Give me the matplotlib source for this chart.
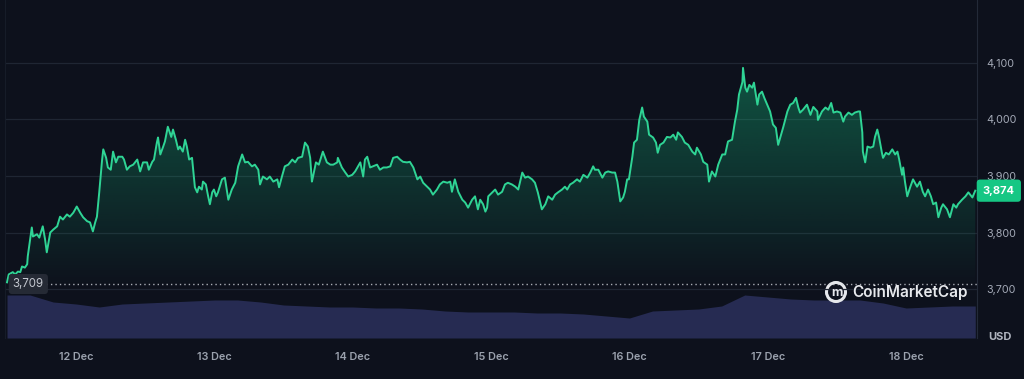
import numpy as np
import matplotlib
matplotlib.use('Agg')
import matplotlib.pyplot as plt
from matplotlib.patches import Ellipse
from matplotlib.ticker import FuncFormatter
import matplotlib.transforms as mtransforms

plt.rcParams['font.family'] = ['Inter', 'DejaVu Sans']

# hours since 11 Dec 12:00, price in USD
eth_price = [
    (0.0, 3712), (0.3, 3726), (1.0, 3730), (1.4, 3726), (1.9, 3731), (2.3, 3730), (2.6, 3740), (3.1, 3738),
    (3.5, 3744), (3.6, 3758), (4.3, 3809), (4.5, 3793), (5.2, 3797), (5.6, 3791), (6.2, 3811), (6.6, 3788),
    (6.9, 3765), (7.5, 3800), (8.0, 3805), (8.7, 3811), (9.2, 3828), (9.7, 3823), (10.4, 3832), (10.9, 3828),
    (11.5, 3835), (12.1, 3846), (12.7, 3835), (13.2, 3827), (13.9, 3820), (14.4, 3818), (14.9, 3802), (15.3, 3818),
    (15.6, 3828), (16.0, 3871), (16.5, 3929), (16.7, 3947), (17.2, 3932), (17.5, 3915), (18.0, 3911), (18.4, 3943),
    (18.9, 3924), (19.3, 3934), (20.0, 3934), (20.3, 3929), (20.8, 3911), (21.3, 3917), (21.9, 3920), (22.6, 3929),
    (23.1, 3908), (23.6, 3924), (24.3, 3924), (24.6, 3911), (25.2, 3925), (25.5, 3929), (26.0, 3959), (26.2, 3968),
    (26.6, 3938), (27.1, 3952), (27.4, 3961), (27.9, 3987), (28.5, 3969), (28.8, 3982), (29.3, 3964), (29.7, 3947),
    (30.0, 3952), (30.5, 3943), (30.9, 3964), (31.2, 3952), (31.6, 3929), (32.1, 3932), (32.3, 3911), (32.6, 3880),
    (33.0, 3871), (33.3, 3881), (33.8, 3876), (34.0, 3890), (34.5, 3885), (34.9, 3864), (35.2, 3850), (35.6, 3871),
    (35.9, 3876), (36.3, 3864), (36.6, 3871), (37.3, 3894), (37.8, 3897), (38.4, 3858), (39.0, 3876), (39.6, 3888),
    (40.1, 3917), (40.8, 3938), (41.3, 3924), (41.8, 3925), (42.5, 3917), (43.0, 3920), (43.6, 3911), (43.9, 3885),
    (44.4, 3899), (45.1, 3894), (45.6, 3899), (46.2, 3890), (46.9, 3894), (47.2, 3880), (47.7, 3899), (48.2, 3917),
    (48.8, 3920), (49.5, 3929), (50.0, 3924), (50.5, 3932), (51.2, 3934), (51.7, 3959), (52.2, 3952), (52.6, 3932),
    (52.9, 3890), (53.1, 3899), (53.6, 3924), (54.1, 3920), (54.8, 3943), (55.5, 3924), (56.1, 3920), (56.6, 3920),
    (57.3, 3924), (57.4, 3932), (58.1, 3915), (58.7, 3906), (59.2, 3899), (59.9, 3902), (60.4, 3908), (60.9, 3917),
    (61.3, 3924), (61.8, 3899), (62.1, 3929), (62.5, 3934), (63.0, 3915), (63.5, 3917), (64.2, 3920), (64.7, 3911),
    (65.3, 3915), (65.9, 3915), (66.5, 3917), (67.0, 3932), (67.7, 3934), (68.2, 3929), (68.7, 3925), (69.4, 3924),
    (69.9, 3925), (70.5, 3915), (71.2, 3894), (71.7, 3899), (72.2, 3888), (72.9, 3881), (73.4, 3876), (73.9, 3867),
    (74.6, 3876), (75.1, 3885), (75.7, 3890), (76.4, 3888), (76.9, 3890), (77.2, 3872), (77.7, 3894), (78.3, 3872),
    (79.0, 3858), (79.5, 3853), (80.0, 3844), (80.7, 3858), (81.2, 3864), (81.7, 3841), (82.1, 3858), (82.6, 3850),
    (83.0, 3837), (83.3, 3844), (83.5, 3864), (84.2, 3871), (84.7, 3876), (85.2, 3867), (85.9, 3872), (86.4, 3885),
    (86.9, 3888), (87.6, 3885), (88.2, 3881), (88.7, 3876), (89.4, 3906), (89.9, 3897), (90.4, 3899), (91.1, 3894),
    (91.6, 3888), (92.1, 3871), (92.8, 3841), (93.4, 3850), (93.9, 3864), (94.6, 3858), (95.1, 3867), (95.6, 3871),
    (96.3, 3876), (96.8, 3881), (97.2, 3876), (97.7, 3885), (98.2, 3888), (98.9, 3894), (99.4, 3890), (100.0, 3902),
    (100.7, 3897), (101.2, 3906), (101.7, 3917), (102.0, 3911), (102.6, 3911), (103.3, 3897), (103.8, 3906), (104.3, 3908),
    (105.0, 3906), (105.5, 3906), (105.9, 3890), (106.4, 3855), (106.9, 3862), (107.2, 3872), (107.6, 3894), (107.9, 3894),
    (108.5, 3934), (108.8, 3959), (109.3, 3964), (109.7, 3999), (110.2, 4021), (110.5, 4005), (111.1, 3996), (111.4, 3973),
    (112.1, 3968), (112.6, 3959), (112.9, 3941), (113.3, 3955), (113.9, 3959), (114.5, 3969), (115.1, 3968), (115.6, 3973),
    (116.1, 3964), (116.4, 3977), (117.1, 3969), (117.6, 3959), (118.2, 3955), (118.9, 3943), (119.4, 3938), (119.7, 3950),
    (120.4, 3938), (120.8, 3925), (121.5, 3920), (121.8, 3890), (122.3, 3908), (122.9, 3899), (123.4, 3920), (124.1, 3938),
    (124.6, 3938), (125.1, 3961), (125.8, 3964), (126.3, 3996), (126.7, 4017), (127.0, 4044), (127.6, 4066), (127.7, 4091),
    (128.1, 4056), (128.4, 4049), (128.8, 4061), (129.3, 4056), (129.6, 4065), (130.2, 4026), (130.5, 4044), (131.0, 4049),
    (131.4, 4038), (131.9, 4026), (132.4, 4014), (132.9, 3991), (133.4, 3985), (133.8, 3955), (134.3, 3973), (134.7, 3987),
    (135.4, 4014), (135.9, 4026), (136.4, 4029), (136.9, 4038), (137.3, 4021), (137.6, 4012), (138.1, 4017), (138.8, 4026),
    (139.4, 4008), (139.9, 4022), (140.6, 4014), (140.7, 3999), (141.4, 4014), (142.0, 4021), (142.5, 4017), (143.0, 4029),
    (143.4, 4012), (144.0, 4014), (144.6, 4012), (145.1, 3996), (145.4, 4005), (146.0, 4012), (146.6, 4008), (147.1, 4012),
    (147.7, 4014), (148.0, 4014), (148.4, 3977), (148.5, 3943), (148.9, 3924), (149.3, 3952), (149.8, 3950), (150.3, 3952),
    (150.6, 3969), (151.0, 3982), (151.3, 3969), (151.8, 3941), (152.0, 3932), (152.5, 3941), (153.0, 3938), (153.6, 3947),
    (154.1, 3938), (154.5, 3943), (154.8, 3929), (155.3, 3902), (155.5, 3915), (155.8, 3890), (156.2, 3864), (156.7, 3880),
    (157.2, 3894), (157.9, 3881), (158.4, 3890), (158.9, 3872), (159.3, 3864), (159.8, 3876), (160.3, 3864), (160.7, 3850),
    (161.2, 3853), (161.6, 3827), (162.1, 3844), (162.4, 3850), (163.1, 3841), (163.6, 3827), (164.2, 3850), (164.7, 3844),
    (165.0, 3850), (165.7, 3858), (166.3, 3864), (166.8, 3871), (167.5, 3862), (168.0, 3874),
]

# volume every 4 hours (billion USD)
vol_hours = list(range(0, 169, 4))
volume = [21.5, 21.5, 18, 17, 15.5, 17, 17.5, 18, 18.5, 19, 19, 18, 16.5, 16, 15.5, 15.5, 15, 15, 14.5, 13.5,
          13, 13, 13, 12.5, 12.5, 12, 11, 10, 13.5, 14, 14.5, 16, 21.5, 20.5, 19.5, 19, 19, 19, 17.5, 15,
          15.5, 16, 16]

day_labels = ['12 Dec', '13 Dec', '14 Dec', '15 Dec', '16 Dec', '17 Dec', '18 Dec']
day_hours = [12, 36, 60, 84, 108, 132, 156]
price_ticks = [3700, 3800, 3900, 4000, 4100]
open_price = 3709
last_price = 3874

hours = np.array([p[0] for p in eth_price])
price = np.array([p[1] for p in eth_price])

bg = '#0d111c'
green = '#2fd495'
grid = '#1f2633'

fig = plt.figure(figsize=(10.24, 3.79), dpi=100, facecolor=bg)
ax = fig.add_axes([5 / 1024, 1 - 338 / 379, 972 / 1024, 338 / 379])
ax.set_facecolor(bg)

xlim = (-0.35, 168.3)
ylim = (3613.6, 4211)
ax.set_xlim(xlim)
ax.set_ylim(ylim)

for t in price_ticks:
    ax.axhline(t, color=grid, lw=0.9, zorder=1)

# gradient under the line
fill = ax.fill_between(hours, price, ylim[0], color='none', lw=0)
grad = np.zeros((256, 2, 4))
grad[:, :, :3] = matplotlib.colors.to_rgb('#16c784')
yy = np.linspace(ylim[0], 4100, 256)
grad[:, :, 3] = (np.clip((yy - 3700) / 400, 0, 1) * 0.38)[:, None]
im = ax.imshow(grad, extent=[xlim[0], xlim[1], ylim[0], 4100], origin='lower', aspect='auto', zorder=2)
im.set_clip_path(fill.get_paths()[0], transform=ax.transData)

ax.plot(hours, price, color=green, lw=1.4, zorder=4, solid_joinstyle='round')

ax.axhline(open_price, xmin=0.042, color='#cfd3da', lw=1.0, ls=(0, (1, 2.2)), alpha=0.8, zorder=5)

# volume
axv = ax.twinx()
axv.set_ylim(0, 169)
axv.fill_between(vol_hours, volume, 0, color='#262b52', lw=0, zorder=3)
axv.set_yticks([])
for s in axv.spines.values():
    s.set_visible(False)
ax.set_zorder(axv.get_zorder() + 1)
ax.patch.set_visible(False)
axv.patch.set_facecolor(bg)

# axes styling
ax.yaxis.tick_right()
ax.set_yticks(price_ticks)
ax.yaxis.set_major_formatter(FuncFormatter(lambda v, _: f'{int(v):,}'))
ax.tick_params(axis='y', length=0, pad=7, labelsize=7.8, labelcolor='#a3a9b6')
ax.set_xticks(day_hours)
ax.set_xticklabels(day_labels)
ax.tick_params(axis='x', length=0, pad=10, labelsize=7.8, labelcolor='#9aa1ad')
for lbl in ax.get_xticklabels():
    lbl.set_fontweight('semibold')
for k in ['top', 'bottom']:
    ax.spines[k].set_visible(False)
ax.spines['right'].set_color('#232a38')
ax.spines['left'].set_color('#161c28')

# badges
trans = mtransforms.blended_transform_factory(ax.transAxes, ax.transData)
ax.text(0.008, open_price, '3,709', transform=trans, ha='left', va='center', fontsize=8.3,
        color='#c3c7cf', zorder=6,
        bbox=dict(boxstyle='round,pad=0.35,rounding_size=0.3', fc='#252a35', ec='none'))
ax.text(1.006, last_price, '3,874', transform=trans, ha='left', va='center', fontsize=8,
        fontweight='bold', color='white', zorder=6, clip_on=False,
        bbox=dict(boxstyle='round,pad=0.55,rounding_size=0.3', fc='#16c784', ec='none'))

fig.text(1000 / 1024, 1 - 337 / 379, 'USD', ha='center', va='center', fontsize=8,
         fontweight='bold', color='#b0b5bf')

# watermark
fig.add_artist(Ellipse((836 / 1024, 1 - 292 / 379), 19 / 1024, 19 / 379, fill=False,
                       ec='#e6e8ec', lw=2.2, transform=fig.transFigure))
fig.text(836.5 / 1024, 1 - 292.5 / 379, 'm', ha='center', va='center', fontsize=9,
         fontweight='bold', color='#e6e8ec')
fig.text(852 / 1024, 1 - 292 / 379, 'CoinMarketCap', ha='left', va='center', fontsize=11,
         fontweight='semibold', color='#e6e8ec')

fig.savefig('out.png', dpi=100, facecolor=bg)
